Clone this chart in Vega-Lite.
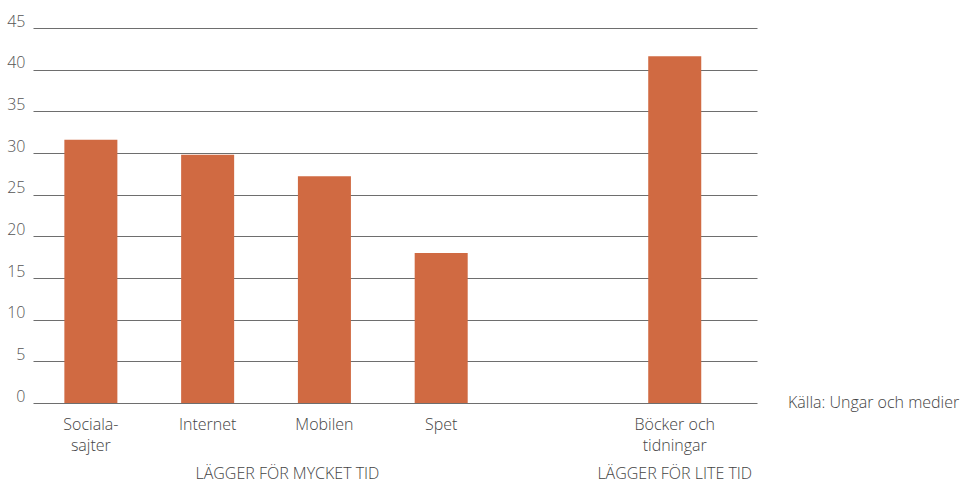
{
  "$schema": "https://vega.github.io/schema/vega-lite/v6.json",
  "autosize": "none",
  "width": 724,
  "height": 375,
  "padding": {"left": 33, "top": 28, "right": 205, "bottom": 81},
  "config": {
    "view": {"stroke": null},
    "font": "Open Sans",
    "text": {"font": "Open Sans", "fontWeight": 300}
  },
  "datasets": {
    "bars": [
      {"kategori": "Sociala-sajter", "andel": 31.6},
      {"kategori": "Internet", "andel": 29.8},
      {"kategori": "Mobilen", "andel": 27.2},
      {"kategori": "Spet", "andel": 18.0},
      {"kategori": "Böcker och tidningar", "andel": 41.6}
    ],
    "group1": [{"kategori": "Mobilen", "grupp": "LÄGGER FÖR MYCKET TID"}],
    "group2": [{"kategori": "Böcker och tidningar", "grupp": "LÄGGER FÖR LITE TID"}],
    "notes": [{"note": "Källa: Ungar och medier"}]
  },
  "layer": [
    {
      "data": {"name": "bars"},
      "mark": {"type": "bar", "color": "#D06A42"},
      "encoding": {
        "x": {
          "field": "kategori",
          "type": "nominal",
          "sort": null,
          "scale": {
            "domain": ["Sociala-sajter", "Internet", "Mobilen", "Spet", " ", "Böcker och tidningar"],
            "paddingInner": 0.546,
            "paddingOuter": 0.373,
            "align": 0.36
          },
          "axis": {
            "title": null,
            "domain": false,
            "ticks": false,
            "labelAngle": 0,
            "labelFont": "Open Sans",
            "labelFontWeight": 300,
            "labelFontSize": 16,
            "labelColor": "#444",
            "labelPadding": 13,
            "labelLineHeight": 21,
            "labelExpr": "datum.value == 'Sociala-sajter' ? ['Sociala-', 'sajter'] : datum.value == 'Böcker och tidningar' ? ['Böcker och', 'tidningar'] : datum.value"
          }
        },
        "y": {
          "field": "andel",
          "type": "quantitative",
          "scale": {"domain": [0, 45]},
          "axis": {
            "title": null,
            "values": [0, 5, 10, 15, 20, 25, 30, 35, 40, 45],
            "domain": false,
            "ticks": false,
            "grid": true,
            "gridColor": "#6e6e6e",
            "gridWidth": 1.2,
            "labelFont": "Open Sans",
            "labelFontWeight": 300,
            "labelFontSize": 16,
            "labelColor": "#555",
            "labelPadding": 8,
            "labelBaseline": "bottom",
            "labelOffset": 1
          }
        }
      }
    },
    {
      "data": {"name": "group1"},
      "mark": {"type": "text", "fontSize": 16, "color": "#444", "baseline": "middle", "dy": 71, "dx": -37},
      "encoding": {
        "x": {"field": "kategori", "type": "nominal", "sort": null},
        "y": {"datum": 0},
        "text": {"field": "grupp"}
      }
    },
    {
      "data": {"name": "group2"},
      "mark": {"type": "text", "fontSize": 16, "color": "#444", "baseline": "middle", "dy": 71, "dx": 0},
      "encoding": {
        "x": {"field": "kategori", "type": "nominal", "sort": null},
        "y": {"datum": 0},
        "text": {"field": "grupp"}
      }
    },
    {
      "data": {"name": "notes"},
      "mark": {"type": "text", "fontSize": 16, "color": "#444", "align": "left", "baseline": "middle", "dx": 31},
      "encoding": {
        "x": {"value": "width"},
        "y": {"datum": 0},
        "text": {"field": "note"}
      }
    }
  ]
}
